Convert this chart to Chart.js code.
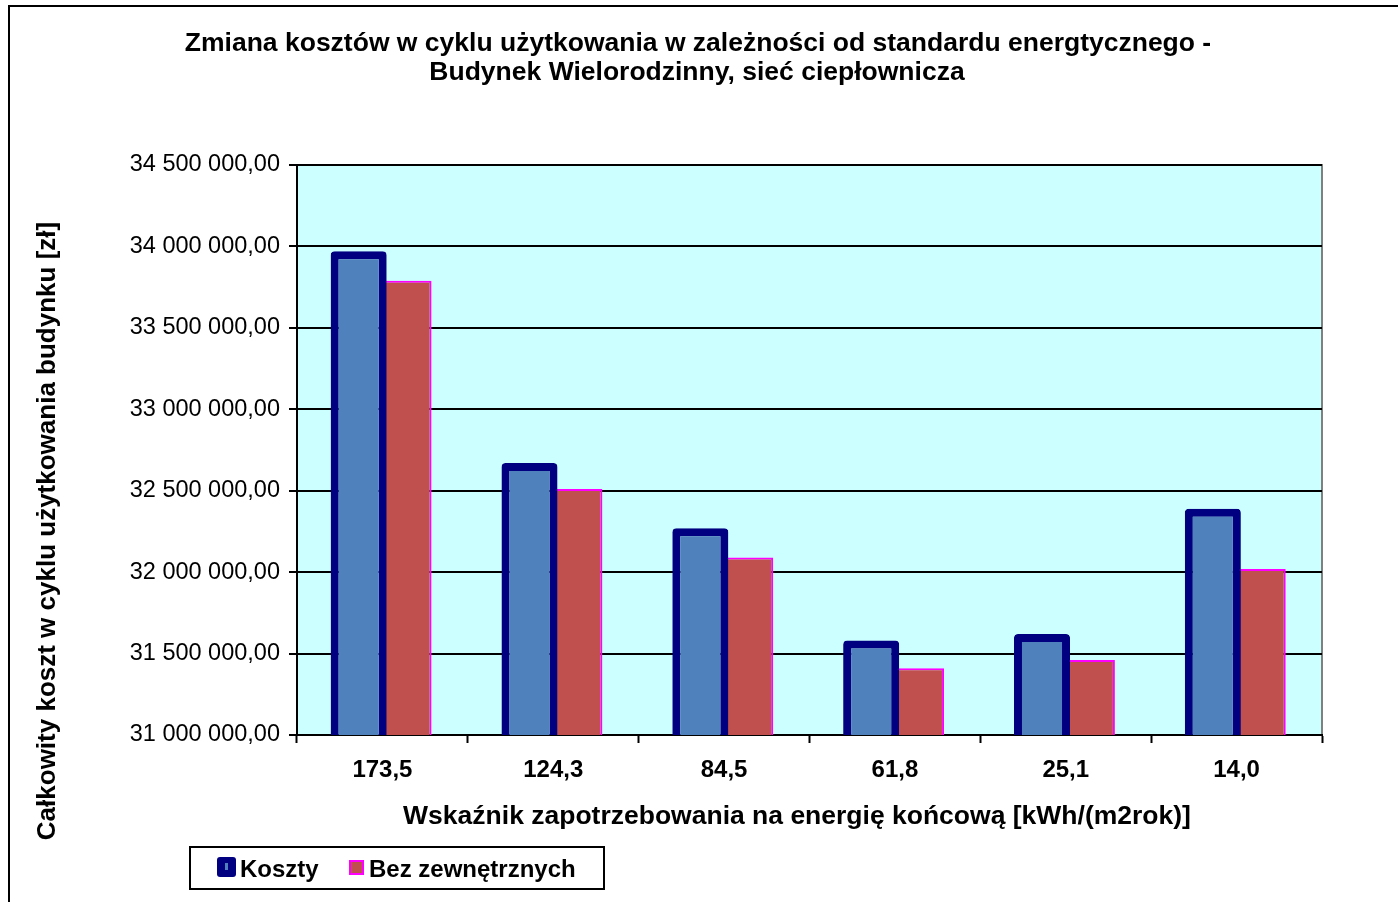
<!DOCTYPE html>
<html>
<head>
<meta charset="utf-8">
<script src="https://cdn.jsdelivr.net/npm/chart.js@4/dist/chart.umd.min.js"></script>
<style>
  html, body { margin: 0; padding: 0; background: #fff; }
  #wrap { width: 1398px; height: 902px; position: relative; }
</style>
</head>
<body>
<div id="wrap"><canvas id="chart" width="1398" height="902"></canvas></div>
<script>
const categories = ['173,5', '124,3', '84,5', '61,8', '25,1', '14,0'];
const koszty = [33970000, 32670000, 32270000, 31580000, 31620000, 32390000];
const bezZewnetrznych = [33790000, 32510000, 32090000, 31410000, 31460000, 32020000];
const yMin = 31000000;
const yMax = 34500000;
const yStep = 500000;
const titleLines = ['Zmiana kosztów w cyklu użytkowania w zależności od standardu energtycznego -', 'Budynek Wielorodzinny, sieć ciepłownicza'];
const xTitle = 'Wskaźnik zapotrzebowania na energię końcową [kWh/(m2rok)]';
const yTitle = 'Całkowity koszt w cyklu użytkowania budynku [zł]';

const FONT = 'Arial, "Liberation Sans", sans-serif';

function formatPl(v) {
  const s = Math.round(v).toString().replace(/\B(?=(\d{3})+(?!\d))/g, ' ');
  return s + ',00';
}

// frame round the whole chart, plot background and the titles
const backgroundPlugin = {
  id: 'background',
  beforeDraw(chart) {
    const { ctx, chartArea: a } = chart;
    ctx.save();
    ctx.fillStyle = '#fff';
    ctx.fillRect(0, 0, chart.width, chart.height);
    ctx.strokeStyle = '#000';
    ctx.lineWidth = 2;
    ctx.strokeRect(9, 6, 1400, 905);
    ctx.fillStyle = '#CCFFFF';
    ctx.fillRect(a.left, a.top, a.right - a.left, a.bottom - a.top);
    ctx.strokeStyle = '#808080';
    ctx.beginPath();
    ctx.moveTo(a.left, a.top);
    ctx.lineTo(a.right, a.top);
    ctx.lineTo(a.right, a.bottom);
    ctx.stroke();

    ctx.fillStyle = '#000';
    ctx.textAlign = 'center';
    ctx.textBaseline = 'middle';
    ctx.font = 'bold 26.5px ' + FONT;
    ctx.fillText(titleLines[0], 698, 44);
    ctx.fillText(titleLines[1], 697, 73);

    ctx.font = 'bold 26.5px ' + FONT;
    ctx.fillText(xTitle, 797, 817);

    ctx.translate(48, 531);
    ctx.rotate(-Math.PI / 2);
    ctx.font = 'bold 26px ' + FONT;
    ctx.fillText(yTitle, 0, 0);
    ctx.restore();
  }
};

// legend box in the bottom-left corner
const legendPlugin = {
  id: 'boxLegend',
  afterDraw(chart) {
    const ctx = chart.ctx;
    ctx.save();
    ctx.strokeStyle = '#000';
    ctx.lineWidth = 2;
    ctx.strokeRect(190, 847, 414, 42);
    // Koszty marker
    ctx.fillStyle = '#000080';
    ctx.beginPath();
    ctx.roundRect(217, 857, 19, 20, 3);
    ctx.fill();
    ctx.fillStyle = '#4F81BD';
    ctx.fillRect(225, 863, 3, 7);
    // Bez marker
    ctx.fillStyle = '#C0504D';
    ctx.fillRect(350, 861, 13, 13);
    ctx.strokeStyle = '#FF00FF';
    ctx.lineWidth = 2;
    ctx.strokeRect(350, 861, 13, 13);
    ctx.fillStyle = '#000';
    ctx.font = 'bold 24px ' + FONT;
    ctx.textBaseline = 'middle';
    ctx.textAlign = 'left';
    ctx.fillText(chart.data.datasets[0].label, 240, 870);
    ctx.fillText(chart.data.datasets[1].label, 369, 870);
    ctx.restore();
  }
};

const chart = new Chart(document.getElementById('chart'), {
  type: 'bar',
  data: {
    labels: categories,
    datasets: [
      {
        label: 'Koszty',
        data: koszty,
        backgroundColor: '#4F81BD',
        borderColor: '#000080',
        borderWidth: 8,
        borderRadius: 4,
        borderSkipped: false,
        barPercentage: 1.18,
        categoryPercentage: 0.556
      },
      {
        label: 'Bez zewnętrznych',
        data: bezZewnetrznych,
        backgroundColor: '#C0504D',
        borderColor: '#FF00FF',
        borderWidth: 2,
        borderSkipped: false,
        barPercentage: 1.07,
        categoryPercentage: 0.556
      }
    ]
  },
  options: {
    responsive: false,
    animation: false,
    layout: { padding: { left: 36, right: 76, top: 165, bottom: 62 } },
    plugins: {
      legend: { display: false },
      tooltip: { enabled: false },
      title: { display: false }
    },
    scales: {
      x: {
        offset: true,
        grid: {
          display: true,
          offset: true,
          drawOnChartArea: false,
          drawTicks: true,
          tickLength: 8,
          tickWidth: 2,
          tickColor: '#000'
        },
        border: { display: true, color: '#000', width: 2 },
        ticks: {
          color: '#000',
          padding: 13,
          font: { family: FONT, size: 24, weight: 'bold' }
        },
        title: { display: false },
        afterFit(scale) { scale.height = 105; }
      },
      y: {
        min: yMin,
        max: yMax,
        grid: {
          color: '#000',
          lineWidth: 2,
          tickLength: 8,
          tickColor: '#000',
          drawTicks: true
        },
        border: { display: true, color: '#000', width: 2 },
        ticks: {
          stepSize: yStep,
          color: '#000',
          padding: 9,
          font: { family: FONT, size: 23.5 },
          callback: (v) => formatPl(v)
        },
        title: { display: false },
        afterFit(scale) { scale.width = 297 - 36; }
      }
    }
  },
  plugins: [backgroundPlugin, legendPlugin]
});
</script>
</body>
</html>
